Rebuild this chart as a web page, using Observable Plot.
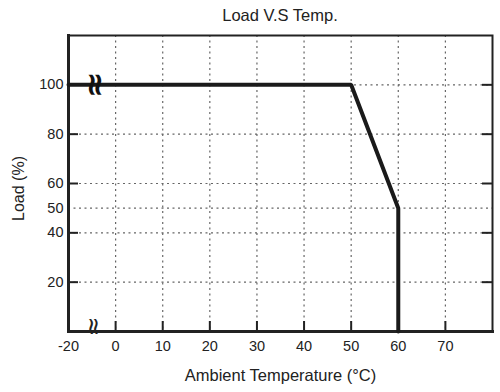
<!DOCTYPE html>
<html><head><meta charset="utf-8">
<script src="https://cdn.jsdelivr.net/npm/d3@7"></script>
<script src="https://cdn.jsdelivr.net/npm/@observablehq/plot@0.6"></script>
<style>
body{margin:0;background:#fff;font-family:"Liberation Sans",Arial,sans-serif}
#wrap{position:relative;width:500px;height:392px}
#title{position:absolute;top:6px;left:68px;width:424px;text-align:center;font-size:16.5px;color:#222}
#chart{position:absolute;top:0;left:0}
</style>
</head><body><div id="wrap"><div id="title"></div><div id="chart"></div></div>
<script>
const title = "Load V.S Temp.";
const xLabel = "Ambient Temperature (°C)";
const yLabel = "Load (%)";
const xTicks = [-10, 0, 10, 20, 30, 40, 50, 60, 70];
const xTickLabels = ["-20", "0", "10", "20", "30", "40", "50", "60", "70"];
const yTicks = [20, 40, 50, 60, 80, 100];
const yMajorTicks = [20, 40, 60, 80, 100];
const curveTemp = [-10, 50, 60, 60];
const curveLoad = [100, 100, 50, 0];
const breakTemp = [-4.3, -4.6];
const breakLoad = [100, 0];

document.getElementById("title").textContent = title;

const W = 500, H = 392, mL = 68, mR = 8, mT = 35, mB = 61;
const pw = W - mL - mR, ph = H - mT - mB;
const curve = curveTemp.map((t, i) => ({t, l: curveLoad[i]}));
const breaks = breakTemp.map((t, i) => ({t, l: breakLoad[i], top: i === 0}));
const ink = "#222";

const chart = Plot.plot({
  width: W, height: H,
  marginLeft: mL, marginRight: mR, marginTop: mT, marginBottom: mB,
  style: {fontFamily: '"Liberation Sans", Arial, sans-serif', color: ink, background: "transparent"},
  x: {domain: [-10, 80]},
  y: {domain: [0, 120]},
  marks: [
    Plot.gridX(xTicks.filter(d => d > -10), {stroke: "#666", strokeOpacity: 1, strokeWidth: 1.2, strokeDasharray: "2,3.5"}),
    Plot.gridY(yTicks, {stroke: "#666", strokeOpacity: 1, strokeWidth: 1.2, strokeDasharray: "2,3.5"}),
    Plot.tickY(yMajorTicks, {y: d => d, insetRight: pw - 10, stroke: ink, strokeWidth: 2}),
    Plot.tickY(yMajorTicks, {y: d => d, insetLeft: pw - 10, stroke: ink, strokeWidth: 2}),
    Plot.tickX(xTicks.filter(d => d > -10), {x: d => d, insetTop: ph - 10, stroke: ink, strokeWidth: 2}),
    Plot.frame({stroke: ink, strokeWidth: 2}),
    Plot.frame({anchor: "left", stroke: ink, strokeWidth: 3}),
    Plot.frame({anchor: "bottom", stroke: ink, strokeWidth: 3}),
    Plot.axisX(xTicks, {tickSize: 0, tickPadding: 9, fontSize: 14.5, label: null,
      tickFormat: d => xTickLabels[xTicks.indexOf(d)]}),
    Plot.axisY(yTicks, {tickSize: 0, tickPadding: 5, fontSize: 14.5, label: null}),
    Plot.line(curve, {x: "t", y: "l", stroke: "#1a1a1a", strokeWidth: 4, strokeLinejoin: "miter"}),
    Plot.text(breaks.filter(d => d.top), {x: "t", y: "l", text: () => "≈", rotate: 90, fontSize: 32, fontWeight: "bold",
      fontFamily: "DejaVu Sans", fill: "#111"}),
    Plot.text(breaks.filter(d => !d.top), {x: "t", y: "l", text: () => "≈", rotate: 90, fontSize: 24,
      fontFamily: "DejaVu Sans", fill: ink, dy: -5}),
    Plot.text([xLabel], {frameAnchor: "bottom", dy: 49, fontSize: 16.5, fill: ink}),
    Plot.text([yLabel], {frameAnchor: "left", textAnchor: "middle", dx: -50, dy: 5, rotate: -90, fontSize: 16, fill: ink})
  ]
});
document.getElementById("chart").appendChild(chart);
</script>
</body></html>
